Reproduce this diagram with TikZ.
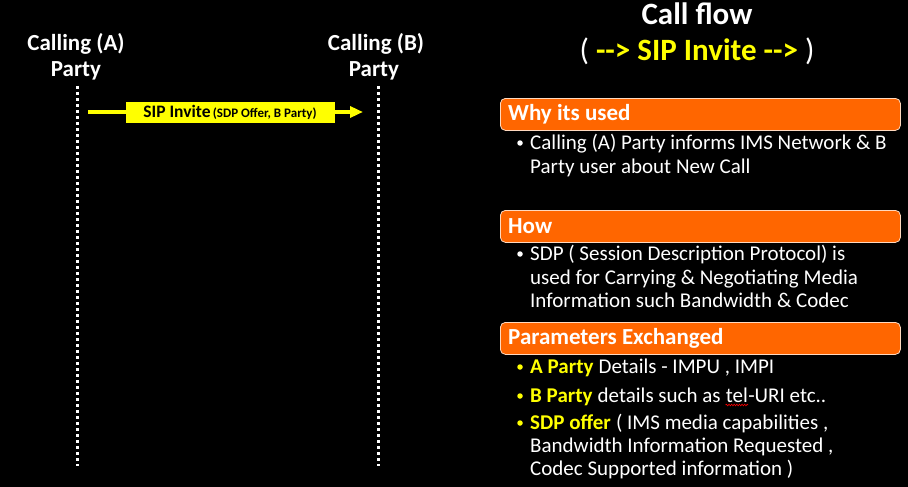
\documentclass[tikz,border=0pt]{standalone}
\usepackage{fontspec}
\setmainfont{Carlito}
\usetikzlibrary{decorations.pathmorphing,arrows.meta}
\definecolor{org}{HTML}{FF6600}
\definecolor{yel}{HTML}{FFFF00}
\begin{document}
\begin{tikzpicture}[x=1pt,y=-1pt,
 hdr/.style={fill=org, draw=white!75!org, line width=0.8pt, rounded corners=5pt, anchor=north west, minimum width=400pt, minimum height=32pt, inner sep=0},
 hdrtxt/.style={anchor=base west, inner sep=0, text=white, font=\fontsize{23}{27}\selectfont\bfseries},
 body/.style={anchor=base west, inner sep=0, text=white, font=\fontsize{21}{25}\selectfont},
 hl/.style={anchor=base west, inner sep=0, text=yel, font=\fontsize{21}{25}\selectfont\bfseries},
 party/.style={anchor=base, inner sep=0, text=white, font=\fontsize{23}{27}\selectfont\bfseries},
 life/.style={white, line width=3pt, dash pattern=on 3pt off 3pt},
 bul/.style={circle, fill=white, inner sep=0, minimum size=5.5pt},
 ybul/.style={bul, fill=yel},
 msg/.style={yel, line width=4pt, -{Triangle[length=13pt,width=11pt]}},
 msglbl/.style={fill=yel, text=black, minimum width=209pt, minimum height=21pt, inner sep=0},
 squig/.style={red, line width=0.6pt, decorate, decoration={snake, amplitude=0.8pt, segment length=2.6pt}},
]
\fill[black] (0,0) rectangle (908,487);
\useasboundingbox (0,0) rectangle (908,487);

% parties
\node[party] (a1) at (76,51) {Calling (A)};
\node[party] (a2) at (76,77) {Party};
\node[party] (b1) at (376,51) {Calling (B)};
\node[party] (b2) at (374,77) {Party};

% lifelines
\coordinate (at) at (77,86);
\coordinate (ab) at (77,466);
\coordinate (bt) at (378,86);
\coordinate (bb) at (378,466);
\draw[life] (at) -- (ab);
\draw[life] (bt) -- (bb);

% message
\coordinate (m1) at (88,112);
\coordinate (m2) at (363,112);
\draw[msg] (m1) -- (m2);
\node[msglbl] (lbl) at (230,112.5) {{\fontsize{17.5}{20}\selectfont\bfseries SIP Invite} {\fontsize{13}{15}\selectfont\bfseries(SDP Offer, B Party)}};

% title
\node[anchor=base, inner sep=0, text=white, font=\fontsize{31}{36}\selectfont\bfseries] (t1) at (697,25) {Call flow};
\node[anchor=base, inner sep=0, text=white, font=\fontsize{31}{36}\selectfont\bfseries] (t2) at (697,60) {{\mdseries(} \textcolor{yel}{-{}-> SIP Invite -{}->} {\mdseries)}};

% Why its used
\node[hdr] (h1) at (500,98) {};
\node[hdrtxt] (h1t) at (508,121) {Why its used};
\node[bul] (w1b) at (520,143) {};
\node[body] (w1) at (530,149) {Calling (A) Party informs IMS Network \& B};
\node[body] (w2) at (530,173) {Party user about New Call};

% How
\node[hdr] (h2) at (500,210) {};
\node[hdrtxt] (h2t) at (508,233) {How};
\node[bul] (s1b) at (520,254) {};
\node[body] (s1) at (530,260) {SDP ( Session Description Protocol) is};
\node[body] (s2) at (530,284) {used for Carrying \& Negotiating Media};
\node[body] (s3) at (530,307) {Information such Bandwidth \& Codec};

% Parameters Exchanged
\node[hdr] (h3) at (500,322) {};
\node[hdrtxt] (h3t) at (508,344) {Parameters Exchanged};

\node[ybul] (p1b) at (520,367) {};
\node[hl] (p1a) at (530,373) {A Party};
\node[body] (p1c) at (p1a.base east) {\ Details - IMPU , IMPI};

\node[ybul] (p2b) at (520,396) {};
\node[hl] (p2a) at (530,402) {B Party};
\node[body] (p2c) at (p2a.base east) {\ details such as\ \kern0pt};
\node[body] (p2d) at (p2c.base east) {tel};
\node[body] (p2e) at (p2d.base east) {-URI etc..};
\draw[squig] ([yshift=-3pt]p2d.base west) -- ([yshift=-3pt]p2d.base east);

\node[ybul] (p3b) at (520,423) {};
\node[hl] (p3a) at (530,429) {SDP offer};
\node[body] (p3c) at (p3a.base east) {\ ( IMS media capabilities ,};
\node[body] (p3d) at (530,452) {Bandwidth Information Requested ,};
\node[body] (p3e) at (530,475) {Codec Supported information )};
\end{tikzpicture}
\end{document}
